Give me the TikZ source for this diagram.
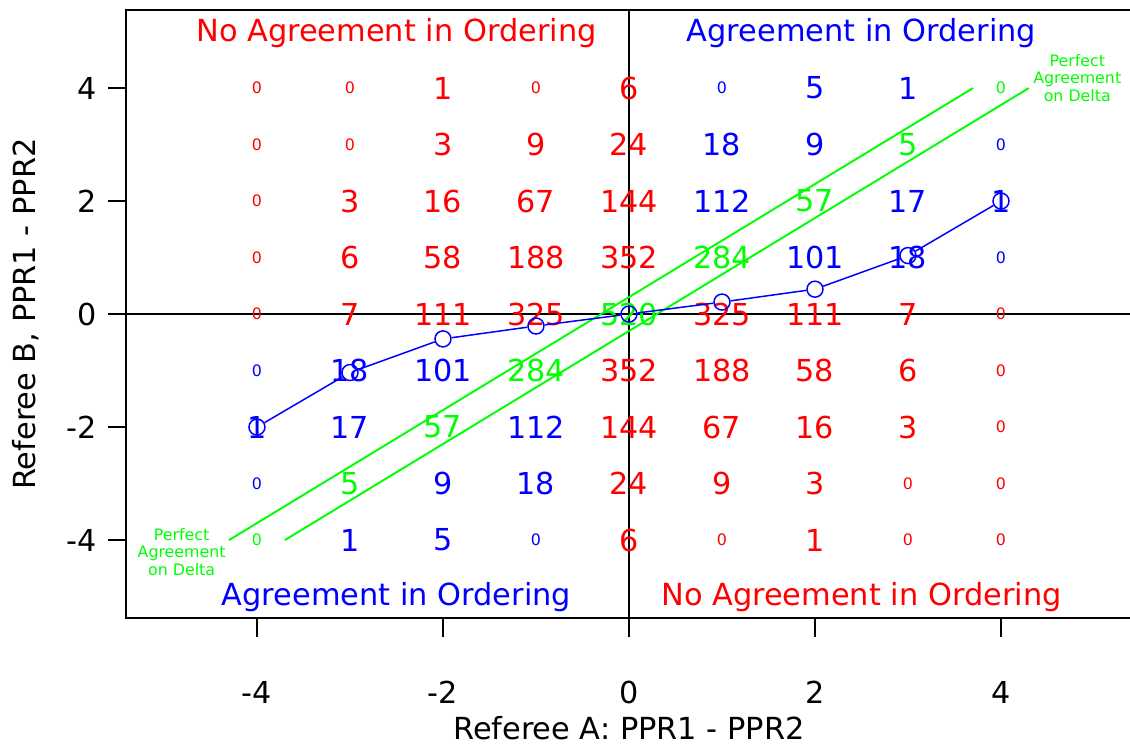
\documentclass[tikz,border=0pt]{standalone}
\usepackage{fontspec}
\setmainfont{DejaVu Sans}
\usepackage{xcolor}
\usetikzlibrary{positioning}

\begin{document}
\begin{tikzpicture}[x=1.86cm, y=1.13cm,
    bignum/.style={font=\fontsize{17.2}{20}\selectfont, inner sep=0pt},
    smallzero/.style={font=\fontsize{9}{10}\selectfont, inner sep=0pt},
    quadlab/.style={font=\fontsize{17.3}{20}\selectfont, inner sep=0pt},
    ticklab/.style={font=\fontsize{17.2}{20}\selectfont, inner sep=0pt},
    deltalab/.style={font=\fontsize{9}{10}\selectfont, align=center, text=green, inner sep=0pt},
    frame/.style={line width=1.1pt},
    meanpt/.style={draw=blue, circle, line width=0.85pt, minimum size=0.32cm, inner sep=0pt}]
    \useasboundingbox (-6.763,-7.628) rectangle (5.387,5.558);

    % box and zero lines
    \draw[frame] (-5.41,-5.38) rectangle (5.41,5.38);
    \draw[frame] (-5.41,0) -- (5.41,0);
    \draw[frame] (0,-5.38) -- (0,5.38);

    % axes
    \foreach \t in {-4,-2,0,2,4} {
        \draw[frame] (\t,-5.38) -- ++(0,-0.33);
        \node[ticklab] (xt\t) at (\t,-6.69) {\t};
        \draw[frame] (-5.41,\t) -- ++(-0.194,0);
        \node[ticklab, anchor=east] (yt\t) at (-5.72,\t) {\t};
    }
    \node[quadlab] (xtitle) at (0,-7.33) {Referee A: PPR1 - PPR2};
    \node[quadlab, rotate=90] (ytitle) at (-6.49,0) {Referee B, PPR1 - PPR2};

    % counts
    \foreach \y/\row in {4/{0,0,1,0,6,0,5,1,0},
                         3/{0,0,3,9,24,18,9,5,0},
                         2/{0,3,16,67,144,112,57,17,1},
                         1/{0,6,58,188,352,284,101,18,0},
                         0/{0,7,111,325,520,325,111,7,0},
                         -1/{0,18,101,284,352,188,58,6,0},
                         -2/{1,17,57,112,144,67,16,3,0},
                         -3/{0,5,9,18,24,9,3,0,0},
                         -4/{0,1,5,0,6,0,1,0,0}}
        \foreach \n [count=\i from -4] in \row {
            \ifnum\i=\y \def\cellcol{green}\else
                \ifnum\numexpr\i*\y\relax>0 \def\cellcol{blue}\else \def\cellcol{red}\fi
            \fi
            \ifnum\n=0 \def\cellsty{smallzero}\else \def\cellsty{bignum}\fi
            \node[\cellsty, text=\cellcol] (n\i\y) at (\i,\y) {\n};
        }

    % perfect agreement band
    \draw[green, frame] (-4.3,-4) -- (3.7,4);
    \draw[green, frame] (-3.7,-4) -- (4.3,4);
    \node[deltalab] (dup) at (4.82,4.18) {Perfect\\Agreement\\on Delta};
    \node[deltalab] (ddown) at (-4.81,-4.21) {Perfect\\Agreement\\on Delta};

    % quadrant labels
    \node[quadlab, text=red] (q1) at (-2.5,4.98) {No Agreement in Ordering};
    \node[quadlab, text=blue] (q2) at (2.5,4.98) {Agreement in Ordering};
    \node[quadlab, text=blue] (q3) at (-2.5,-5.01) {Agreement in Ordering};
    \node[quadlab, text=red] (q4) at (2.5,-5.01) {No Agreement in Ordering};

    % conditional means
    \foreach \x/\m [count=\k] in {-4/-2, -3/-1.035, -2/-0.440, -1/-0.212, 0/0,
                                   1/0.212, 2/0.440, 3/1.035, 4/2}
        \node[meanpt] (m\k) at (\x,\m) {};
    \foreach \a/\b in {1/2,2/3,3/4,4/5,5/6,6/7,7/8,8/9}
        \draw[blue, line width=0.85pt] (m\a) -- (m\b);
\end{tikzpicture}
\end{document}
